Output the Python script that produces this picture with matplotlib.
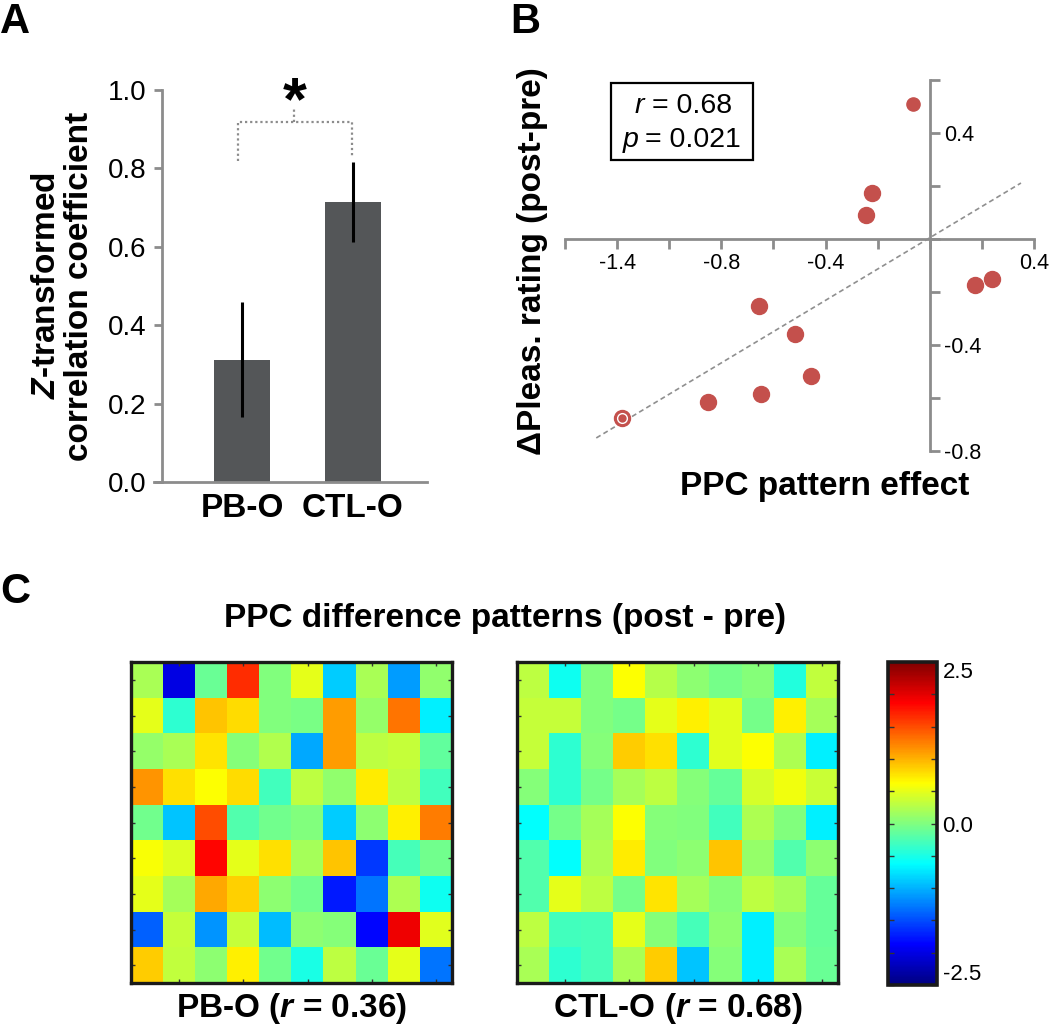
import numpy as np
import matplotlib
matplotlib.use("Agg")
import matplotlib.pyplot as plt
from matplotlib.patches import Rectangle
from matplotlib.colors import LinearSegmentedColormap

plt.rcParams['font.family'] = ['Liberation Sans', 'DejaVu Sans']
plt.rcParams['mathtext.fontset'] = 'custom'
plt.rcParams['mathtext.rm'] = 'Liberation Sans:bold'
plt.rcParams['mathtext.it'] = 'Liberation Sans:italic:bold'
plt.rcParams['mathtext.bf'] = 'Liberation Sans:bold'

# ---------------- data ----------------
bar_labels = ["PB-O", "CTL-O"]
bar_means = [0.312, 0.714]
bar_err_low = [0.165, 0.611]
bar_err_high = [0.458, 0.816]

scatter_x = [-0.064, -0.222, -0.244, 0.173, 0.240, -0.655, -0.517, -0.456, -0.647, -0.850, -1.181]
scatter_y = [0.509, 0.172, 0.090, -0.172, -0.152, -0.254, -0.359, -0.517, -0.585, -0.616, -0.675]
scatter_xticks = [-1.2, -0.8, -0.4, 0.4]
scatter_xticklabels = ["-1.4", "-0.8", "-0.4", "0.4"]
scatter_yticks = [0.4, -0.4, -0.8]
scatter_yticklabels = ["0.4", "-0.4", "-0.8"]

pb_o = [
    [0.20, -2.00, -0.10, 1.65, 0.00, 0.50, -0.875, 0.20, -1.10, 0.08],
    [0.50, -0.40, 0.90, 0.80, 0.00, -0.03, 1.10, 0.10, 1.30, -0.70],
    [0.10, 0.20, 0.75, 0.03, 0.25, -1.05, 1.10, 0.30, 0.35, -0.15],
    [1.15, 0.78, 0.62, 0.80, -0.30, 0.30, 0.08, 0.72, 0.30, -0.30],
    [-0.06, -0.90, 1.50, -0.22, -0.06, 0.00, -0.875, 0.07, 0.70, 1.25],
    [0.60, 0.45, 1.85, 0.50, 0.78, 0.18, 0.90, -1.60, -0.28, -0.06],
    [0.50, 0.18, 1.05, 0.85, 0.07, -0.06, -1.75, -1.30, 0.23, -0.55],
    [-1.40, 0.35, -1.15, 0.35, -0.95, 0.07, 0.03, -1.85, 1.95, 0.47],
    [0.87, 0.33, 0.07, 0.70, -0.06, -0.50, 0.30, -0.10, 0.50, -1.30],
]
ctl_o = [
    [0.30, -0.55, 0.00, 0.62, 0.27, 0.07, -0.05, 0.03, -0.45, 0.33],
    [0.35, 0.35, 0.00, -0.05, 0.50, 0.70, 0.47, -0.05, 0.70, 0.18],
    [0.35, -0.40, 0.03, 0.87, 0.78, -0.40, 0.47, 0.62, 0.23, -0.70],
    [0.03, -0.40, -0.05, 0.18, 0.30, 0.03, -0.12, 0.42, 0.55, 0.37],
    [-0.62, -0.05, 0.18, 0.62, 0.03, 0.00, -0.30, 0.23, 0.00, -0.70],
    [-0.22, -0.62, 0.23, 0.72, 0.00, 0.07, 0.90, 0.10, -0.22, 0.07],
    [-0.22, 0.50, 0.30, -0.05, 0.75, 0.18, 0.03, 0.30, 0.18, -0.12],
    [0.30, -0.30, -0.28, 0.50, 0.03, -0.28, 0.07, -0.70, 0.03, -0.12],
    [0.20, -0.40, -0.28, 0.20, 0.87, -0.90, 0.03, -0.70, 0.20, -0.10],
]
heat_labels = ["PB-O ($\\mathit{r}$ = 0.36)", "CTL-O ($\\mathit{r}$ = 0.68)"]
cbar_range = (-2.5, 2.5)

# MATLAB-style jet colormap
jet_m = LinearSegmentedColormap.from_list(
    "jet_matlab",
    [(0.0, (0, 0, 0.5)), (0.125, (0, 0, 1)), (0.375, (0, 1, 1)),
     (0.625, (1, 1, 0)), (0.875, (1, 0, 0)), (1.0, (0.5, 0, 0))], N=256)

# ---------------- layout helpers ----------------
W, H = 1050, 1029
fig = plt.figure(figsize=(W / 100, H / 100), dpi=100)


def rect(x0, y0, x1, y1):
    return [x0 / W, 1 - y1 / H, (x1 - x0) / W, (y1 - y0) / H]


def ftext(x, y, s, **kw):
    return fig.text(x / W, 1 - y / H, s, **kw)


GRAY = "#8c8c8c"
BAR = "#545658"
RED = "#c4504c"

# ---------------- Panel A ----------------
axA = fig.add_axes(rect(154, 90, 427, 482))
xpos = np.arange(1, len(bar_means) + 1)
axA.bar(xpos, bar_means, width=0.5, color=BAR, zorder=2)
for x, lo, hi in zip(xpos, bar_err_low, bar_err_high):
    axA.plot([x, x], [lo, hi], color="black", lw=2.2, zorder=3, solid_capstyle="butt")
axA.set_xlim(0.207, 2.667)
axA.set_ylim(0, 1.0)
for s in ["top", "right"]:
    axA.spines[s].set_visible(False)
axA.spines["left"].set_position(("data", 0.279))
for s in ["left", "bottom"]:
    axA.spines[s].set_color(GRAY)
    axA.spines[s].set_linewidth(2.0)
axA.set_yticks(np.arange(0, 1.01, 0.2))
axA.set_yticklabels([f"{v:.1f}" for v in np.arange(0, 1.01, 0.2)], fontsize=20)
axA.tick_params(axis="y", direction="out", length=6, width=2, color=GRAY, pad=5)
axA.set_xticks(xpos)
axA.set_xticklabels(bar_labels, fontsize=24, fontweight="bold")
axA.tick_params(axis="x", length=0, pad=8)
axA.patch.set_alpha(0)

# significance bracket
bl, br, btop, bmid = 0.964, 1.991, 0.918, 1.468
axA.plot([bl, bl, br, br], [0.82, btop, btop, 0.826], color=GRAY, lw=1.6,
         ls=(0, (1.0, 1.3)), zorder=1, clip_on=False)
axA.plot([bmid, bmid], [btop, 0.953], color=GRAY, lw=1.6, ls=(0, (1.0, 1.3)), clip_on=False)
axA.text(1.475, 0.925, "*", fontsize=44, fontweight="bold", ha="center", va="baseline")

ftext(63, 286, "$\\mathit{Z}$-transformed\ncorrelation coefficient", rotation=90,
      fontsize=24, fontweight="bold", ha="center", va="center", multialignment="center",
      linespacing=1.05)
ftext(0, 2, "A", fontsize=30, fontweight="bold", ha="left", va="top")

# ---------------- Panel B ----------------
axB = fig.add_axes(rect(565, 80, 1034, 451))
axB.set_xlim(-1.4, 0.4)
axB.set_ylim(-0.8, 0.6)
axB.patch.set_alpha(0)
axB.spines["top"].set_visible(False)
axB.spines["left"].set_visible(False)
axB.spines["right"].set_position(("data", 0))
axB.spines["bottom"].set_position(("data", 0))
for s in ["right", "bottom"]:
    axB.spines[s].set_color(GRAY)
    axB.spines[s].set_linewidth(2.0)
axB.yaxis.set_ticks_position("right")
axB.xaxis.set_ticks_position("bottom")
xt = np.round(np.arange(-1.4, 0.41, 0.2), 2)
yt = np.round(np.arange(-0.8, 0.61, 0.2), 2)
axB.set_xticks(xt)
axB.set_xticklabels([scatter_xticklabels[scatter_xticks.index(v)] if v in scatter_xticks else ""
                     for v in xt], fontsize=15.5)
axB.set_yticks(yt)
axB.set_yticklabels([scatter_yticklabels[scatter_yticks.index(v)] if v in scatter_yticks else ""
                     for v in yt], fontsize=15.5)
axB.tick_params(axis="both", direction="out", length=7, width=2, color=GRAY, pad=3)

sx = np.array(scatter_x)
sy = np.array(scatter_y)
slope, icpt = np.polyfit(sx, sy, 1)
lx = np.array([-1.28, 0.35])
axB.plot(lx, slope * lx + icpt, ls=(0, (3, 2)), color="#8f8f8f", lw=1.2, zorder=2)
msizes = [9.5] + [11.5] * (len(sx) - 1)
for x, y, m in zip(sx, sy, msizes):
    axB.plot(x, y, "o", ms=m, color=RED, mec=RED, zorder=3, clip_on=False)
axB.plot(sx[-1], sy[-1], "o", ms=7, mfc="none", mec="white", mew=1.0, zorder=4)

fig.patches.append(Rectangle((611 / W, 1 - 160 / H), 142 / W, 77 / H, fill=False,
                             edgecolor="black", lw=1.6, transform=fig.transFigure, figure=fig))
ftext(635, 113, "r", fontsize=20.5, style="italic", ha="left", va="baseline")
ftext(652, 113, "= 0.68", fontsize=20.5, ha="left", va="baseline")
ftext(623, 147, "p", fontsize=20.5, style="italic", ha="left", va="baseline")
ftext(645, 147, "= 0.021", fontsize=20.5, ha="left", va="baseline")

ftext(533, 261, "\u0394Pleas. rating (post-pre)", rotation=90, fontsize=24,
      fontweight="bold", ha="center", va="center")
ftext(825, 486, "PPC pattern effect", fontsize=24, fontweight="bold", ha="center", va="center")
ftext(510, 2, "B", fontsize=30, fontweight="bold", ha="left", va="top")

# ---------------- Panel C ----------------
ftext(0, 572, "C", fontsize=30, fontweight="bold", ha="left", va="top")
ftext(505, 618, "PPC difference patterns (post - pre)", fontsize=24, fontweight="bold",
      ha="center", va="center")

im = None
for data, (x0, x1), lab in zip([pb_o, ctl_o], [(131, 452), (517, 838)], heat_labels):
    ax = fig.add_axes(rect(x0, 662, x1, 983))
    arr = np.array(data)
    im = ax.imshow(arr, cmap=jet_m, vmin=cbar_range[0], vmax=cbar_range[1],
                   aspect="auto", interpolation="nearest")
    ax.set_xticks(np.arange(1, arr.shape[1], 2))
    ax.set_yticks(np.arange(arr.shape[0]))
    ax.tick_params(direction="in", length=3, width=1, color="#333333",
                   top=True, bottom=True, left=True, right=True,
                   labelbottom=False, labelleft=False)
    for s in ax.spines.values():
        s.set_linewidth(2.4)
        s.set_color("#1a1a1a")
    ftext((x0 + x1) / 2, 1009, lab, fontsize=24, fontweight="bold", ha="center", va="center")

cax = fig.add_axes(rect(888, 662, 937, 985))
cb = fig.colorbar(im, cax=cax)
ticks = np.round(np.arange(-2.5, 2.51, 0.5), 2)
cb.set_ticks(ticks)
cb.set_ticklabels([f"{t:.1f}" if t in (-2.5, 0.0, 2.5) else "" for t in ticks])
cb.ax.tick_params(direction="in", length=4, width=1, color="#333333", left=True, right=True,
                  labelsize=16, pad=4)
for lbl in cb.ax.get_yticklabels():
    txt = lbl.get_text()
    if txt == "2.5":
        lbl.set_va("top")
    elif txt == "-2.5":
        lbl.set_va("bottom")
cb.outline.set_linewidth(2.6)
cb.outline.set_edgecolor("#1a1a1a")

fig.savefig("out.png", dpi=100)
